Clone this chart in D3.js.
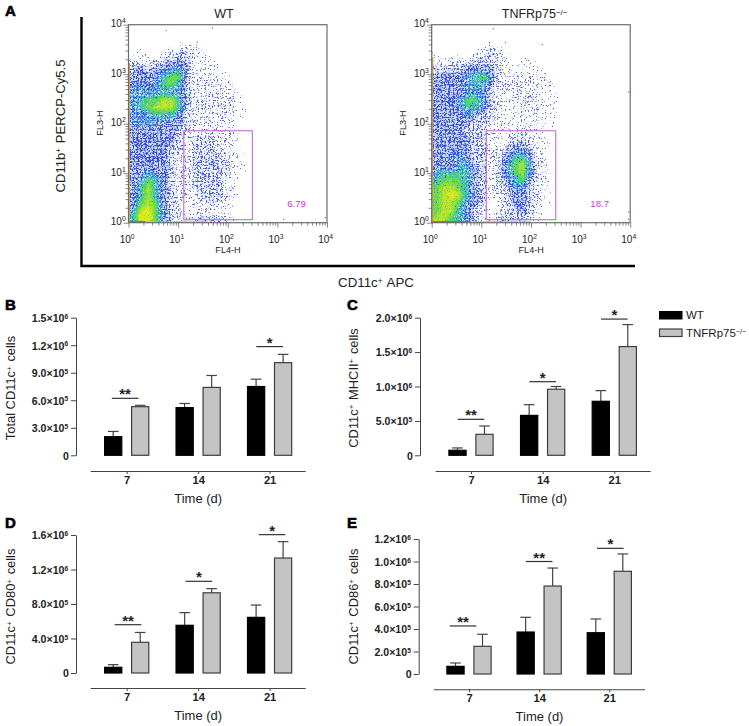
<!DOCTYPE html>
<html><head><meta charset="utf-8">
<style>
html,body{margin:0;padding:0;background:#fff}
svg{display:block}
text{font-family:"Liberation Sans",Arial,sans-serif;fill:#222}
</style>
<script src="https://cdn.jsdelivr.net/npm/d3@7"></script>
</head><body><svg id="c" width="749" height="726"></svg>
<script>
// ---------- data ----------
const days = ["7","14","21"];
// bar panels: means (WT / KO), upper error ends, significance bar height and label
const bWT=[2.03e5,5.2e5,7.5e5],  bKO=[5.3e5,7.4e5,1.01e6],  bWTe=[2.6e5,5.65e5,8.3e5], bKOe=[5.45e5,8.7e5,1.1e6];
const cWT=[7.3e4,5.8e5,7.85e5],  cKO=[3.05e5,9.6e5,1.58e6], cWTe=[1.07e5,7.36e5,9.4e5],cKOe=[4.26e5,1.0e6,1.9e6];
const dWT=[6.6e4,5.53e5,6.45e5], dKO=[3.56e5,9.3e5,1.333e6],dWTe=[9.7e4,7.0e5,7.88e5],dKOe=[4.7e5,9.78e5,1.523e6];
const eWT=[6.8e4,3.73e5,3.67e5], eKO=[2.46e5,7.82e5,9.13e5],eWTe=[9.8e4,5.04e5,4.89e5],eKOe=[3.53e5,9.42e5,1.067e6];
const bSigY=[6.21e5,null,1.185e6], bSig=["**","","*"];
const cSigY=[5.23e5,1.07e6,1.98e6], cSig=["**","*","*"];
const dSigY=[5.6e5,1.063e6,1.604e6], dSig=["**","*","*"];
const eSigY=[4.27e5,1.0e6,1.117e6], eSig=["**","**","*"];
const bTicks=[0,3e5,6e5,9e5,1.2e6,1.5e6];
const cTicks=[0,5e5,1e6,1.5e6,2e6];
const dTicks=[0,4e5,8e5,1.2e6,1.6e6];
const eTicks=[0,2e5,4e5,6e5,8e5,1e6,1.2e6];
// flow cytometry: density read by eye, 25x25 cells (0.16 decade each), top row = 10^4
const densityWT=[
"0000000000000000000000000",
"0000000000000000000000000",
"0000001110000000000000000",
"0100123321000000000000000",
"2222334311100000000000000",
"3434455411110000000000000",
"4445677321211000000000000",
"4545776322221100000000000",
"5555655322222100000000000",
"5677886322222210000000000",
"5678886322222210000000000",
"5556664322222110000000000",
"4555444322222100000000000",
"4444443222222100000000000",
"4444443233322100000000000",
"4444433233322100000000000",
"4444432233332110000000000",
"4444432233433110000000000",
"4454432233333110000000000",
"4576432233332100000000000",
"4686432233332100000000000",
"4686432223332100000000000",
"4787432122321100000000000",
"5897432122221000000000000",
"6997532233332100000000000"];
const densityKO=[
"0000000000000000000000000",
"0000000000000000000000000",
"0000001100000000000000000",
"1000012321000000000000000",
"1122233321011000000000000",
"3333444421111100000000000",
"4444567522222110000000000",
"4444566422222211000000000",
"4444555321222211000000000",
"4445775321222211000000000",
"4445665321122211000000000",
"4444543321111211000000000",
"4444433211111211000000000",
"4444333211221100000000000",
"4444433212332110000000000",
"4444433223443210000000000",
"4445433224664210000000000",
"4445533235785210000000000",
"5666643235785210000000000",
"6777643234674210000000000",
"7887643223553210000000000",
"7898643123443210000000000",
"7887543123443210000000000",
"7886532122343100000000000",
"8876532133332100000000000"];
const outliersWT=[[5.6,7800],[47.6,8700],[23.7,4550],[9000,1.3],[1300,1.2]];
const outliersKO=[[17,8500],[30,4400],[165,4060],[9100,445],[9100,1.67],[9000,1.2]];
const gateWT={x:[13,313],y:[1.15,72]}, gateKO={x:[12.6,316],y:[1.15,72]};
const gateLabelWT="6.79", gateLabelKO="18.7";
const flowTicks=[1,2,3,4,5,6,7,8,9,10,20,30,40,50,60,70,80,90,100,200,300,400,500,600,700,800,900,1000,2000,3000,4000,5000,6000,7000,8000,9000,10000];
const decades=[[1,"0"],[10,"1"],[100,"2"],[1000,"3"],[10000,"4"]];
// density level look: threshold, speckle colour, noise cut (lower = denser)
const levelAt =[0.55,1.0,1.5,2.0,2.5,3.0,3.5,3.9,4.4,4.9,5.4,5.9,6.4,6.9,7.4,7.9,8.4];
const levelCol=["#4a60e0","#4a60e0","#4a60e0","#4058dc","#3a52dc","#3650dc","#3048d8","#2a46d6","#3a90e0","#2fb0d8","#35c8b8","#45d08c","#52d65a","#72dc48","#a4e030","#c4e428","#e6e820"];
const levelCut=[0.69,0.68,0.67,0.655,0.64,0.625,0.61,0.60,0.575,0.555,0.52,0.49,0.45,0.42,0.41,0.40,0.40];
const washAt=[2.5,3.5], washCol=["#f0f3fd","#ccd8f7"];

// ---------- layout ----------
const svg=d3.select("#c");
const FONT='"Liberation Sans",Arial,sans-serif';
function rich(t,parts){
  parts.forEach(p=>{
    if(Array.isArray(p)){
      t.append("tspan").attr("dy",p[2]||"-0.4em").style("font-size",p[1]||"0.62em").text(p[0]);
      t.append("tspan").attr("dy",p[3]||"0.248em").text("\u200a");
    } else t.append("tspan").text(p);
  });
  return t;
}
const defs=svg.append("defs");
levelCol.forEach((c,i)=>{
  const col=d3.rgb(c), k=14;
  const f=defs.append("filter").attr("id","stip"+i).attr("filterUnits","userSpaceOnUse")
    .attr("x",0).attr("y",0).attr("width",749).attr("height",300).attr("color-interpolation-filters","sRGB");
  f.append("feTurbulence").attr("type","fractalNoise").attr("baseFrequency",0.75).attr("numOctaves",2).attr("seed",3+i*7).attr("result","n");
  f.append("feColorMatrix").attr("in","n").attr("type","matrix")
    .attr("values",`0 0 0 0 ${col.r/255} 0 0 0 0 ${col.g/255} 0 0 0 0 ${col.b/255} ${k} 0 0 0 ${-k*levelCut[i]}`).attr("result","s");
  f.append("feComposite").attr("in","s").attr("in2","SourceAlpha").attr("operator","in").attr("result","m");
  f.append("feGaussianBlur").attr("in","m").attr("stdDeviation",0.35);
});

// ---------- flow panels ----------
const flowGeom={top:24.7,bottom:222.7,width:198.5};
function flow(left,rows,gate,label,outliers,title,titleCx,pile){
  const right=left+flowGeom.width;
  const x=d3.scaleLog().domain([1,1e4]).range([left,right]);
  const y=d3.scaleLog().domain([1,1e4]).range([flowGeom.bottom,flowGeom.top]);
  const g=svg.append("g");
  const clipId="clip"+Math.round(left);
  defs.append("clipPath").attr("id",clipId).append("rect").attr("x",left).attr("y",flowGeom.top).attr("width",flowGeom.width).attr("height",flowGeom.bottom-flowGeom.top);
  const n=rows.length;
  const values=rows.flatMap(r=>r.split("").map(Number));
  const proj=d3.geoTransform({point(px,py){
    this.stream.point(left+px/n*flowGeom.width, flowGeom.top+py/n*(flowGeom.bottom-flowGeom.top));
  }});
  const path=d3.geoPath(proj);
  const pg=g.append("g").attr("clip-path","url(#"+clipId+")");
  pg.selectAll("path.w").data(d3.contours().size([n,n]).thresholds(washAt)(values)).join("path").attr("class","w")
    .attr("d",path).attr("fill",(d,i)=>washCol[i]);
  pg.selectAll("path.lv").data(d3.contours().size([n,n]).thresholds(levelAt)(values)).join("path").attr("class","lv")
    .attr("d",path).attr("fill","#000").attr("filter",(d,i)=>"url(#stip"+i+")");
  // piled-up events on the axes
  pg.append("line").attr("x1",x(1)+0.8).attr("x2",x(1)+0.8).attr("y1",y(pile.yTop)).attr("y2",y(1)).attr("stroke","#e0a040").attr("stroke-width",1.4);
  pg.append("line").attr("x1",x(1)).attr("x2",x(pile.xRed)).attr("y1",y(1)-0.8).attr("y2",y(1)-0.8).attr("stroke","#e25030").attr("stroke-width",1.6);
  pg.append("line").attr("x1",x(pile.xRed)).attr("x2",x(pile.xEnd)).attr("y1",y(1)-0.8).attr("y2",y(1)-0.8).attr("stroke","#a8d870").attr("stroke-width",1.4);
  g.selectAll("rect.o").data(outliers).join("rect").attr("class","o")
    .attr("x",d=>x(d[0])).attr("y",d=>y(d[1])).attr("width",1.1).attr("height",1.1).attr("fill","#4a5ad8");
  // frame + axes
  g.append("rect").attr("x",left).attr("y",flowGeom.top).attr("width",flowGeom.width).attr("height",flowGeom.bottom-flowGeom.top)
    .attr("fill","none").attr("stroke","#6d6d6d").attr("stroke-width",1.2);
  const isMajor=d=>decades.some(k=>k[0]===d);
  const ax=g.append("g").attr("transform",`translate(0,${flowGeom.bottom})`)
    .call(d3.axisBottom(x).tickValues(flowTicks).tickFormat("").tickSizeOuter(0));
  ax.select(".domain").remove();
  ax.selectAll(".tick line").attr("y2",d=>isMajor(d)?5:3).attr("stroke","#555").attr("stroke-width",0.7);
  const ay=g.append("g").attr("transform",`translate(${left},0)`)
    .call(d3.axisLeft(y).tickValues(flowTicks).tickFormat("").tickSizeOuter(0));
  ay.select(".domain").remove();
  ay.selectAll(".tick line").attr("x2",d=>isMajor(d)?-5:-3).attr("stroke","#555").attr("stroke-width",0.7);
  decades.forEach(([v,e])=>{
    rich(g.append("text").attr("x",x(v)-1).attr("y",flowGeom.bottom+20).attr("text-anchor","middle").style("font-size","10px"),["10",[e,"0.68em","-0.55em","0.37em"]]);
    rich(g.append("text").attr("x",left-2).attr("y",y(v)+2.5).attr("text-anchor","end").style("font-size","10px"),["10",[e,"0.68em","-0.55em","0.37em"]]);
  });
  g.append("text").attr("x",left+99.5).attr("y",253).attr("text-anchor","middle").style("font-size","9.1px").text("FL4-H");
  g.append("text").attr("transform",`translate(${left-26},123) rotate(-90)`).attr("text-anchor","middle").style("font-size","9.1px").text("FL3-H");
  // gate
  g.append("rect").attr("x",x(gate.x[0])).attr("y",y(gate.y[1])).attr("width",x(gate.x[1])-x(gate.x[0])).attr("height",y(gate.y[0])-y(gate.y[1]))
    .attr("fill","none").attr("stroke","#c869d8").attr("stroke-width",1.1);
  g.append("text").attr("x",left+168).attr("y",206.5).attr("text-anchor","middle").style("font-size","9.6px").style("fill","#c040d8").text(label);
  title(g.append("text").attr("x",titleCx).attr("y",18).attr("text-anchor","middle").style("font-size","12.5px"));
}
flow(128.5,densityWT,gateWT,gateLabelWT,outliersWT,t=>t.text("WT"),224,{yTop:1700,xRed:2.2,xEnd:40});
flow(431.7,densityKO,gateKO,gateLabelKO,outliersKO,t=>rich(t,["TNFRp75",["\u2212/\u2212","0.62em","-0.45em","0.28em"]]),535,{yTop:2200,xRed:6,xEnd:100});

// big axes of panel A
svg.append("path").attr("d","M81.5,17V266H635").attr("fill","none").attr("stroke","#000").attr("stroke-width",2.4);
rich(svg.append("text").attr("transform","translate(64.5,126) rotate(-90)").attr("text-anchor","middle").style("font-size","13.1px"),["CD11b",["+"]," PERCP-Cy5.5"]);
rich(svg.append("text").attr("x",376).attr("y",287).attr("text-anchor","middle").style("font-size","13.3px"),["CD11c",["+"]," APC"]);

// ---------- bar panels ----------
function bars(o){
  const g=svg.append("g");
  const y=d3.scaleLinear().domain([0,o.max]).range([o.y0,o.yTop]);
  const x=d3.scalePoint().domain(days).range(o.xt);
  // y axis
  const ay=g.append("g").attr("transform",`translate(${o.ax},0)`)
    .call(d3.axisLeft(y).tickValues(o.ticks).tickSize(5).tickSizeOuter(0).tickPadding(2));
  ay.selectAll(".domain,.tick line").attr("stroke","#444").attr("stroke-width",1);
  ay.selectAll(".tick text").each(function(d){
    const t=d3.select(this).text("").style("font-family",FONT).style("font-weight","bold").style("font-size","10.6px").style("fill","#222").attr("dy","0.36em");
    if(d===0){t.text("0");return;}
    const e=Math.floor(Math.log10(d)+1e-9), m=d/Math.pow(10,e);
    rich(t,[m.toFixed(1)+"\u00d710",[String(e),"0.62em","-0.5em","0.31em"]]);
  });
  // x axis
  const ax=g.append("g").attr("transform",`translate(0,${o.xAxisY})`)
    .call(d3.axisBottom(x).tickSize(3).tickSizeOuter(0).tickPadding(2));
  ax.select(".domain").attr("d",`M${o.xl},0.5H${o.xr}`).attr("stroke","#444").attr("stroke-width",1.1);
  ax.selectAll(".tick line").attr("stroke","#444").attr("stroke-width",1);
  ax.selectAll(".tick text").style("font-family",FONT).style("font-weight","bold").style("font-size","11.2px").style("fill","#222");
  g.append("text").attr("x",(o.xl+o.xr)/2).attr("y",o.xAxisY+32).attr("text-anchor","middle").style("font-size","13px").text("Time (d)");
  // y title
  rich(g.append("text").attr("transform",`translate(${o.titleX},${o.titleCy}) rotate(-90)`).attr("text-anchor","middle").style("font-size","12.9px"),o.title);
  // bars
  const groups=[
    {v:o.wt,e:o.wte,dx:-13.5,fill:"#000",stroke:"#000"},
    {v:o.ko,e:o.koe,dx:13.5,fill:"#c4c4c4",stroke:"#3e3e3e"}];
  groups.forEach(s=>{
    g.selectAll(null).data(days).join("line")
      .attr("x1",d=>x(d)+s.dx).attr("x2",d=>x(d)+s.dx)
      .attr("y1",(d,i)=>y(s.e[i])).attr("y2",(d,i)=>y(s.v[i]))
      .attr("stroke","#444").attr("stroke-width",1.2);
    g.selectAll(null).data(days).join("line")
      .attr("x1",d=>x(d)+s.dx-5.3).attr("x2",d=>x(d)+s.dx+5.3)
      .attr("y1",(d,i)=>y(s.e[i])).attr("y2",(d,i)=>y(s.e[i]))
      .attr("stroke","#444").attr("stroke-width",1.2);
    g.selectAll(null).data(days).join("rect")
      .attr("x",d=>x(d)+s.dx-8.6).attr("width",17.2)
      .attr("y",(d,i)=>y(s.v[i])).attr("height",(d,i)=>y(0)-y(s.v[i]))
      .attr("fill",s.fill).attr("stroke",s.stroke).attr("stroke-width",1.2);
  });
  // significance
  days.forEach((d,i)=>{
    if(o.sigY[i]==null)return;
    const cx=x(d)+o.sigDx[i], yy=y(o.sigY[i]);
    g.append("line").attr("x1",cx-13.3).attr("x2",cx+13.3).attr("y1",yy).attr("y2",yy).attr("stroke","#333").attr("stroke-width",1.2);
    g.append("text").attr("x",cx).attr("y",yy+1).attr("text-anchor","middle").style("font-size","15px").style("font-weight","bold").text(o.sig[i]);
  });
}
const sup=["+"];
bars({max:1.5e6,y0:455.3,yTop:317.7,ax:76,xt:[126.7,269.6],xl:90.7,xr:305.7,xAxisY:471,ticks:bTicks,
  wt:bWT,ko:bKO,wte:bWTe,koe:bKOe,sigY:bSigY,sig:bSig,sigDx:[-1.6,0,0],
  titleX:15,titleCy:388,title:["Total CD11c",sup," cells"]});
bars({max:2e6,y0:455.3,yTop:317.7,ax:420,xt:[471,614.3],xl:435.7,xr:650.7,xAxisY:471,ticks:cTicks,
  wt:cWT,ko:cKO,wte:cWTe,koe:cKOe,sigY:cSigY,sig:cSig,sigDx:[0,0,0],
  titleX:357.5,titleCy:388,title:["CD11c",sup," MHCII",sup," cells"]});
bars({max:1.6e6,y0:673,yTop:535,ax:76,xt:[126.7,269.6],xl:90.7,xr:305.7,xAxisY:688,ticks:dTicks,
  wt:dWT,ko:dKO,wte:dWTe,koe:dKOe,sigY:dSigY,sig:dSig,sigDx:[1.3,0.7,2.5],
  titleX:15,titleCy:606.5,title:["CD11c",sup," CD80",sup," cells"]});
bars({max:1.2e6,y0:674,yTop:539,ax:418.7,xt:[469,609.3],xl:434,xr:645,xAxisY:689.3,ticks:eTicks,
  wt:eWT,ko:eKO,wte:eWTe,koe:eKOe,sigY:eSigY,sig:eSig,sigDx:[-6,0,1],
  titleX:357.5,titleCy:606.5,title:["CD11c",sup," CD86",sup," cells"]});

// legend
const lg=svg.append("g");
lg.append("rect").attr("x",659.5).attr("y",311.5).attr("width",22.5).attr("height",7.5).attr("fill","#000").attr("stroke","#000");
lg.append("rect").attr("x",659.5).attr("y",329).attr("width",22.5).attr("height",7.5).attr("fill","#c4c4c4").attr("stroke","#3e3e3e").attr("stroke-width",1.2);
lg.append("text").attr("x",686).attr("y",319).style("font-size","11.5px").text("WT");
rich(lg.append("text").attr("x",686).attr("y",337).style("font-size","11.5px"),["TNFRp75",["\u2212/\u2212","0.62em","-0.45em","0.28em"]]);

// panel letters
[["A",5,16],["B",5,310],["C",347,310],["D",5,528],["E",347,528]].forEach(([t,x,y])=>{
  svg.append("text").attr("x",x).attr("y",y).style("font-size","15px").style("font-weight","bold").style("fill","#000")
    .attr("stroke","#000").attr("stroke-width",0.6).text(t);
});
</script></body></html>
